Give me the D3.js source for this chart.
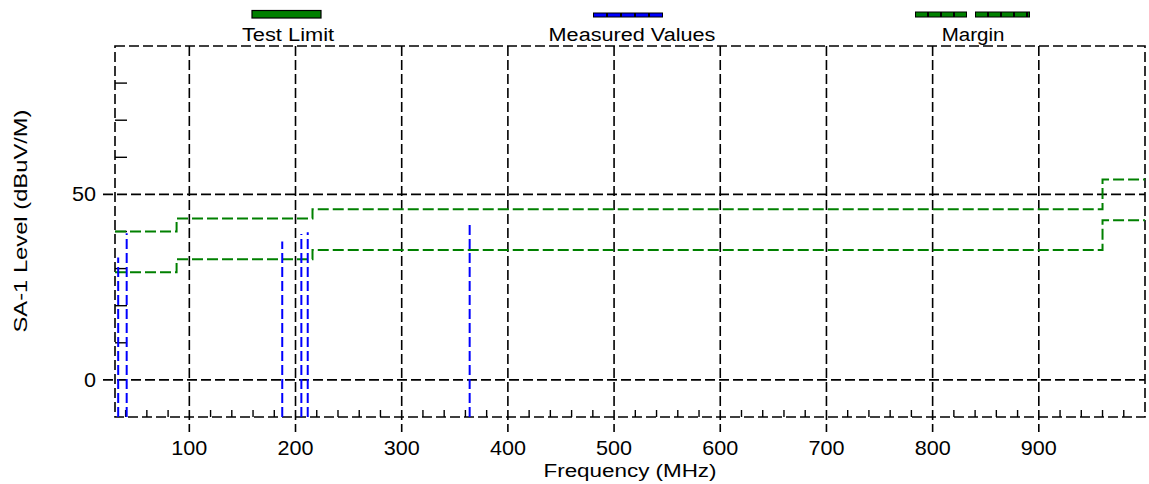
<!DOCTYPE html>
<html><head><meta charset="utf-8">
<script src="https://cdn.jsdelivr.net/npm/d3@7"></script>
<style>
body{margin:0;background:#fff;}
text{font-family:"Liberation Sans",Arial,sans-serif;fill:#000;}
</style></head>
<body>
<svg id="c" width="1149" height="484"></svg>
<script>
// ---- data ----
const limitFreq = [30, 88, 216, 960, 1000];
const limitLevel = [40, 43.5, 46, 54];
const marginLevel = [29, 32.5, 35, 43];
const measFreq = [33, 41, 187.5, 205.5, 211.5, 364];
const measLevel = [33, 39.5, 37.3, 39.3, 39.8, 42];
const xTicks = [100, 200, 300, 400, 500, 600, 700, 800, 900];
const yTicks = [0, 50];
const xMinor = d3.range(40, 1000, 20).filter(v => v % 100 !== 0);
const yMinor = [10, 20, 30, 40, 60, 70, 80];
const legendItems = ["Test Limit", "Measured Values", "Margin"];

// ---- layout ----
const W = 1149, H = 484;
const m = {l: 115, r: 4, t: 46, b: 67};
const svg = d3.select("#c");
const x = d3.scaleLinear().domain([30, 1000]).range([m.l, W - m.r]);
const y = d3.scaleLinear().domain([-10, 90]).range([H - m.b, m.t]);
const x0 = x.range()[0], x1 = x.range()[1], yB = y.range()[0], yT = y.range()[1];
const dash = "10,4";
const green = "#008000", blue = "#0000ff";

// grid lines (vertical), extending below frame
const g = svg.append("g");
g.selectAll(".vg").data(xTicks).enter().append("line")
  .attr("x1", d => x(d)).attr("x2", d => x(d))
  .attr("y1", yT).attr("y2", yB + 15)
  .attr("stroke", "#000").attr("stroke-width", 1.6).attr("stroke-dasharray", dash);
g.selectAll(".hg").data(yTicks).enter().append("line")
  .attr("x1", x0 - 12).attr("x2", x1)
  .attr("y1", d => y(d)).attr("y2", d => y(d))
  .attr("stroke", "#000").attr("stroke-width", 1.6).attr("stroke-dasharray", dash);

// minor ticks
g.selectAll(".xm").data(xMinor).enter().append("line")
  .attr("x1", d => x(d)).attr("x2", d => x(d))
  .attr("y1", yB).attr("y2", yB - 7)
  .attr("stroke", "#000").attr("stroke-width", 1.4);
g.selectAll(".ym").data(yMinor).enter().append("line")
  .attr("x1", x0).attr("x2", x0 + 12)
  .attr("y1", d => y(d)).attr("y2", d => y(d))
  .attr("stroke", "#000").attr("stroke-width", 1.4);

// frame
svg.append("rect").attr("x", x0).attr("y", yT).attr("width", x1 - x0).attr("height", yB - yT)
  .attr("fill", "none").attr("stroke", "#000").attr("stroke-width", 1.6).attr("stroke-dasharray", dash);

// step lines
const stepData = lv => limitFreq.map((f, i) => [f, lv[Math.min(i, lv.length - 1)]]);
const line = d3.line().x(d => x(d[0])).y(d => y(d[1])).curve(d3.curveStepAfter);
[limitLevel, marginLevel].forEach(lv => {
  svg.append("path").attr("d", line(stepData(lv)))
    .attr("fill", "none").attr("stroke", green).attr("stroke-width", 2).attr("stroke-dasharray", "11,4");
});

// measured values
svg.selectAll(".mv").data(measFreq).enter().append("line")
  .attr("x1", d => x(d)).attr("x2", d => x(d))
  .attr("y1", yB).attr("y2", (d, i) => y(measLevel[i]))
  .attr("stroke", blue).attr("stroke-width", 2).attr("stroke-dasharray", "10,4");

// tick labels
svg.selectAll(".xl").data(xTicks).enter().append("text")
  .attr("transform", d => "translate(" + x(d) + ",455) scale(1.08,1)")
  .attr("text-anchor", "middle").attr("font-size", 20).text(d => d);
svg.selectAll(".yl").data(yTicks).enter().append("text")
  .attr("transform", d => "translate(96," + (y(d) + 7) + ") scale(1.08,1)")
  .attr("text-anchor", "end").attr("font-size", 20).text(d => d);

// axis titles
svg.append("text").attr("transform", "translate(" + ((x0 + x1) / 2) + ",477) scale(1.18,1)")
  .attr("text-anchor", "middle").attr("font-size", 19).text("Frequency (MHz)");
svg.append("text").attr("transform", "translate(27," + (221) + ") rotate(-90) scale(1.25,1)")
  .attr("text-anchor", "middle").attr("font-size", 19).text("SA-1 Level (dBuV/M)");

// legend
const lx = [288, 632, 973];
const ls = [1.15, 1.14, 1.08];
svg.selectAll(".lt").data(legendItems).enter().append("text")
  .attr("transform", (d, i) => "translate(" + lx[i] + ",41) scale(" + ls[i] + ",1)")
  .attr("text-anchor", "middle").attr("font-size", 19).text(d => d);
// Test Limit symbol
svg.append("rect").attr("x", 252).attr("y", 10.5).attr("width", 69).attr("height", 7.5)
  .attr("fill", green).attr("stroke", "#000").attr("stroke-width", 1.2);
// Measured Values symbol
svg.append("line").attr("x1", 593).attr("x2", 663).attr("y1", 15).attr("y2", 15)
  .attr("stroke", "#000").attr("stroke-width", 5);
svg.append("line").attr("x1", 594).attr("x2", 662).attr("y1", 15).attr("y2", 15)
  .attr("stroke", blue).attr("stroke-width", 3).attr("stroke-dasharray", "12,2");
// Margin symbol
[[915, 967], [975, 1030]].forEach(s => {
  svg.append("line").attr("x1", s[0]).attr("x2", s[1]).attr("y1", 14.5).attr("y2", 14.5)
    .attr("stroke", "#000").attr("stroke-width", 6);
  svg.append("line").attr("x1", s[0] + 1).attr("x2", s[1] - 1).attr("y1", 14.5).attr("y2", 14.5)
    .attr("stroke", green).attr("stroke-width", 4).attr("stroke-dasharray", "11,2");
});
</script>
</body></html>
